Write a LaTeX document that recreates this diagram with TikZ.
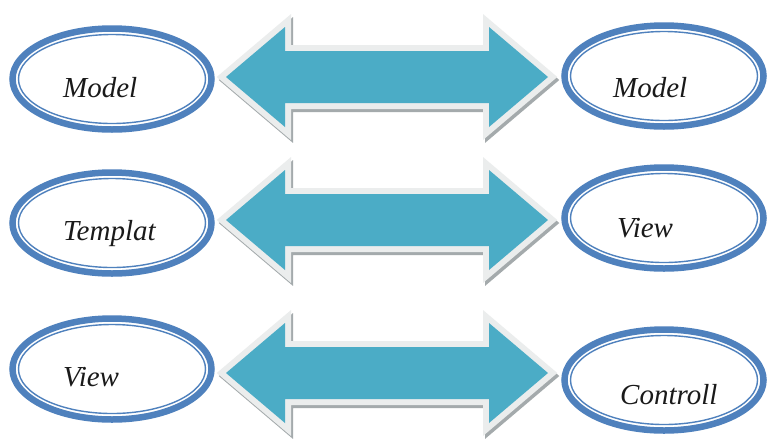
\documentclass[tikz,border=0pt]{standalone}
\usepackage{fontspec}
\setmainfont{Liberation Serif}
\usetikzlibrary{shapes.geometric,calc}
\definecolor{tealfive}{HTML}{4BACC6}
\definecolor{blueone}{HTML}{4F81BD}
\definecolor{rim}{HTML}{EBEDED}
\definecolor{shade}{HTML}{A4AAAC}
\definecolor{ink}{HTML}{1A1A1A}
\begin{document}
\begin{tikzpicture}[x=1pt,y=-1pt,
  oval/.style={ellipse, draw=blueone, line width=6.5pt, fill=white,
    minimum width=199pt, minimum height=101pt, inner sep=0pt},
  innerring/.style={draw=blueone, line width=1.4pt},
  lbl/.style={anchor=base west, inner sep=0pt, text=ink,
    font=\fontsize{29}{30}\selectfont\itshape},
  blockarrow/.style={fill=tealfive, line join=miter,
    preaction={draw=shade, line width=12pt, transform canvas={shift={(2pt,-3pt)}}},
    preaction={draw=rim, line width=12pt}}
]
\useasboundingbox[fill=white] (0,0) rectangle (768,440);

% block arrows
\foreach \i/\yc in {1/77,2/220,3/373}{
  \coordinate (L\i) at (226,\yc);
  \coordinate (R\i) at (548,\yc);
  \path[blockarrow] (L\i) -- ($(L\i)+(59,-50)$) -- ($(L\i)+(59,-26)$)
    -- ($(R\i)+(-59,-26)$) -- ($(R\i)+(-59,-50)$) -- (R\i)
    -- ($(R\i)+(-59,50)$) -- ($(R\i)+(-59,26)$)
    -- ($(L\i)+(59,26)$) -- ($(L\i)+(59,50)$) -- cycle;
}

% ellipses
\foreach \n/\x/\y in {lm/112/79, lt/112/223, lv/112/369, rm/664/76, rv/664/218, rc/664/380}{
  \node[oval] (\n) at (\x,\y) {};
  \draw[innerring] (\n.center) ellipse [x radius=93.5pt, y radius=44.5pt];
}

% labels
\node[lbl] (tlm) at (63,97) {Model};
\node[lbl] (tlt) at (63,240) {Templat};
\node[lbl] (tlv) at (63,386) {View};
\node[lbl] (trm) at (613,97) {Model};
\node[lbl] (trv) at (617,237) {View};
\node[lbl] (trc) at (620,404) {Controll};
\end{tikzpicture}
\end{document}
